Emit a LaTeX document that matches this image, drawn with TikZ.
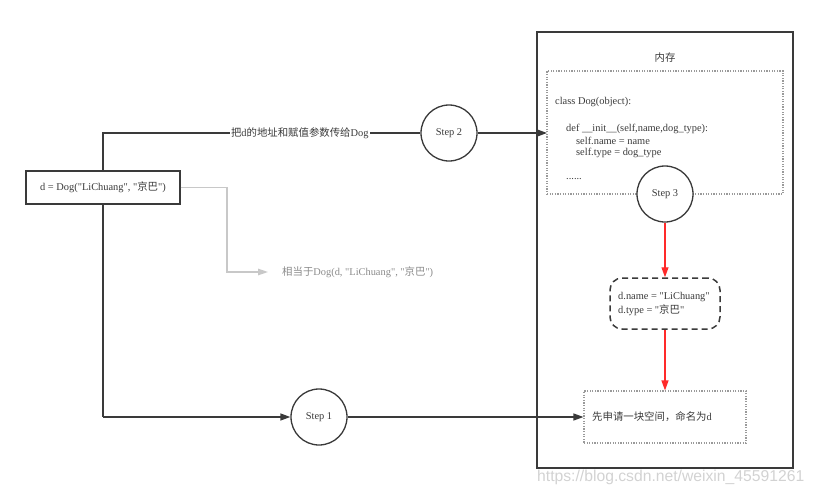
\documentclass[tikz,border=0pt]{standalone}
\usepackage{fontspec}
\setmainfont{Liberation Serif}[Ligatures=TeXOff]
\newfontfamily\cjk{Noto Sans CJK SC}
\newfontfamily\wmfont{Liberation Sans}
\usetikzlibrary{arrows.meta}
\definecolor{ink}{HTML}{3A3A3A}
\definecolor{lightln}{HTML}{C8C8C8}
\definecolor{greytxt}{HTML}{8A8A8A}
\definecolor{redln}{HTML}{FF2A2A}
\definecolor{dotln}{HTML}{9A9A9A}
\tikzset{
  txt/.style={font=\fontsize{10.4}{12}\selectfont, text=ink},
  plainbox/.style={draw=ink, line width=1.3pt, fill=white, inner sep=0pt, txt},
  stepcirc/.style={circle, draw=ink, line width=1.3pt, fill=white, minimum size=56pt, inner sep=0pt, txt},
  dotbox/.style={draw=dotln, dash pattern=on 1.2pt off 1.4pt, line width=1.1pt, inner sep=0pt},
  dashbox/.style={draw=ink, dash pattern=on 6pt off 4pt, line width=1.5pt, rounded corners=12pt, inner sep=0pt, fill=white},
  conn/.style={draw=ink, line width=1.3pt},
  arr/.style={conn, -{Triangle[length=10pt,width=7pt]}},
  redarr/.style={draw=redln, line width=1.3pt, -{Triangle[length=10pt,width=7pt]}},
  greyarr/.style={draw=lightln, line width=1.3pt, -{Triangle[length=10pt,width=6.5pt]}},
  codeline/.style={anchor=west, inner sep=0pt, txt},
}
\begin{document}
\begin{tikzpicture}[x=1pt,y=-1pt]
\useasboundingbox (0,0) rectangle (815,493);

% memory outer box
\node[draw=ink, line width=1.5pt, minimum width=256pt, minimum height=436pt, inner sep=0pt] (mem) at (665,250) {};
\node[txt] (memlbl) at (665,58) {\cjk 内存};

% class code dotted box
\node[dotbox, minimum width=236pt, minimum height=123pt] (code) at (665,132.5) {};
\node[codeline] (c1) at (555,102) {class Dog(object):};
\node[codeline] (c2) at (566,129) {def \_\_init\_\_(self,name,dog\_type):};
\node[codeline] (c3) at (576,141) {self.name = name};
\node[codeline] (c4) at (576,153) {self.type = dog\_type};
\node[codeline] (c5) at (566,179) {......};

% left box
\node[plainbox, minimum width=154pt, minimum height=33pt] (dog) at (103,187.5) {d = Dog("LiChuang", "{\cjk 京巴}")};

% steps
\node[stepcirc] (s2) at (449,133) {Step 2};
\node[stepcirc] (s3) at (665,194) {Step 3};
\node[stepcirc] (s1) at (319,417) {Step 1};

% dashed box
\node[dashbox, minimum width=110pt, minimum height=51pt] (attr) at (665,303.5) {};
\node[codeline] (a1) at (618,297) {d.name = "LiChuang"};
\node[codeline] (a2) at (618,310) {d.type = "{\cjk 京巴}"};

% allocation dotted box
\node[dotbox, minimum width=162pt, minimum height=52pt] (alloc) at (665,417) {};
\node[codeline] (alloctxt) at (592,417) {{\cjk 先申请一块空间，命名为}d};

% coordinates
\coordinate (ctop) at (103,133);
\coordinate (cbot) at (103,417);
\coordinate (gcorner1) at (227,187.5);
\coordinate (gcorner2) at (227,272);
\coordinate (gend) at (268,272);
\coordinate (codein) at (547,133);

% connectors
\draw[conn] (dog.north) -- (ctop) -- (s2.west)
  node[pos=0.62, fill=white, inner sep=1pt, txt] (lbl2) {{\cjk 把}d{\cjk 的地址和赋值参数传给}Dog};
\draw[arr] (s2.east) -- (codein);
\draw[conn] (dog.south) -- (cbot);
\draw[arr] (cbot) -- (s1.west);
\draw[arr] (s1.east) -- (alloc.west);
\draw[redarr] (s3.south) -- (attr.north);
\draw[redarr] (attr.south) -- (alloc.north);
\draw[greyarr] (dog.east) -- (gcorner1) -- (gcorner2) -- (gend);
\node[anchor=west, inner sep=0pt, font=\fontsize{10.4}{12}\selectfont, text=greytxt] (eqlbl) at (282,272) {{\cjk 相当于}Dog(d, "LiChuang", "{\cjk 京巴}")};

% watermark
\node[anchor=west, inner sep=0pt, font=\wmfont\fontsize{15.7}{17}\selectfont, text=gray!35] (wm) at (537,477) {https://blog.csdn.net/weixin\_45591261};
\end{tikzpicture}
\end{document}
